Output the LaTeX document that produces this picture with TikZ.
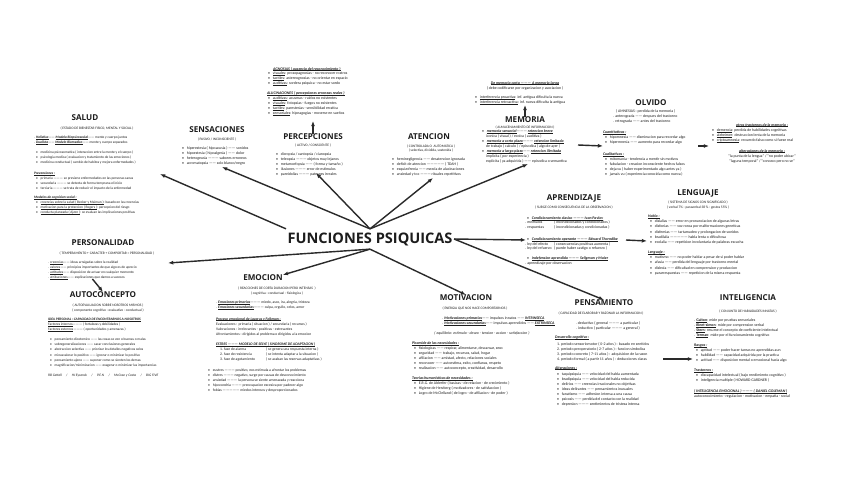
\documentclass[tikz,border=0pt]{standalone}
\usepackage{fontspec}
\setmainfont{Carlito}
\newfontfamily\headfont{Open Sans}
\usetikzlibrary{arrows.meta}
\definecolor{ink}{HTML}{1C1C1C}
\definecolor{wire}{HTML}{2A2A2A}

\newcommand{\ul}[1]{\leavevmode\setbox0=\hbox{#1}\rlap{\rule[-0.8pt]{\wd0}{0.3pt}}\box0}
\newcommand{\ttl}[1]{\ul{\textbf{\textit{#1}}}}
\newcommand{\itm}{\hspace*{1mm}\textbullet\hspace{1.4mm}}

\tikzset{
  hubtext/.style={font=\headfont\fontsize{20.7}{24}\selectfont\bfseries, inner xsep=2pt, inner ysep=5pt, text=ink},
  headtext/.style={font=\headfont\fontsize{11.5}{13}\selectfont\bfseries, inner sep=0pt, text=ink},
  subtext/.style={font=\fontsize{5}{6.9}\selectfont, inner sep=0pt, align=center, text=ink},
  bodytext/.style={font=\fontsize{5.5}{7.1}\selectfont, inner sep=0pt, align=left, anchor=north west, text=ink},
  smalltext/.style={bodytext, font=\fontsize{5}{7.1}\selectfont},
  linkarrow/.style={-{Latex[length=2.6mm,width=2mm]}, line width=2pt, draw=wire},
}

\begin{document}
\begin{tikzpicture}[x=0.05cm, y=-0.05cm]
  \fill[white] (0,0) rectangle (848,477);
  \useasboundingbox (0,0) rectangle (848,477);

  % Nodo central
  \node[hubtext] (fp) at (370,239) {FUNCIONES PSIQUICAS};

  % SALUD
  \node[headtext] (salud) at (85,118) {SALUD};
  \node[subtext] (saludSub) at (97,128) {( ESTADO DE BIENESTAR FISICO, MENTAL Y SOCIAL )};
  \node[smalltext] (saludTxt) at (34,136) {. \ttl{Holistica} —— \ttl{Modelo Biopsicosocial} —— mente y cuerpo juntos\\
. \ttl{Dualista} —— \ttl{Modelo Biomedico} —— mente y cuerpo separados\\[2.3mm]
\itm medicina psicosomatica ( interaccion entre la mente y el cuerpo )\\
\itm psicologia medica ( evaluacion y tratamiento de las emociones )\\
\itm medicina conductual ( cambio de habitos y mejora enfermedades )\\[3mm]
\ttl{Prevenciones :}\\
\itm primaria ——— se previene enfermedades en las personas sanas\\
\itm secundaria ——— se detecta de forma temprana el inicio\\
\itm terciaria ——— se trata de reducir el impacto de la enfermedad\\[2.3mm]
\ttl{Modelos de cognicion social :}\\
\itm \ul{creencias sobre la salud ( Becker y Maiman )} : basado en las creencias\\
\itm \ul{motivacion para la proteccion ( Rogers )} : percepcion del riesgo\\
\itm \ul{conducta planeada ( Ajzen )} : se evaluan las implicaciones positivas};

  % SENSACIONES
  \node[headtext] (sens) at (217,130) {SENSACIONES};
  \node[subtext] (sensSub) at (217,139) {( PASIVO / INCONSCIENTE )};
  \node[bodytext] (sensTxt) at (180,147) {\itm hiperestesia ( hipoacusia ) —— sonidos\\
\itm hipoestesia ( hipoalgesia ) —— dolor\\
\itm heterogeusia ——— sabores erroneos\\
\itm acromatopsia —— solo blanco/negro};

  % PERCEPCIONES
  \node[bodytext] (agnos) at (266,67) {\hspace*{3.5mm}\ttl{AGNOSIAS ( ausencia del reconocimiento )}\\
\itm \ul{visuales} : prosopagnosias - no reconocer rostros\\
\itm \ul{tactiles} : astereognosias - no orientar en espacio\\
\itm \ul{auditivas} : sordera psiquica - no estar sordo\\[2.5mm]
\hspace*{0.5mm}\ttl{ALUCINACIONES ( percepciones erroneas reales )}\\
\itm \ul{auditivas} : acusmas - ruidos no existentes\\
\itm \ul{visuales} : fotopsias - fuegos no existentes\\
\itm \ul{tactiles} : parestesias - sensibilidad erratica\\
\itm \ul{sensoriales} : hipnagogias - moverse en sueños};
  \node[headtext] (perc) at (313,137) {PERCEPCIONES};
  \node[subtext] (percSub) at (313,145) {( ACTIVO / CONSCIENTE )};
  \node[bodytext] (percTxt) at (274,153) {\itm dicropsia / xantopsia / cianopsia\\
\itm teleopsia ——— objetos muy lejanos\\
\itm metamorfopsia —— ( forma y tamaño )\\
\itm ilusiones ——— error de estimulos\\
\itm pareidolias ——— patrones irreales};

  % ATENCION
  \node[headtext] (aten) at (429,137) {ATENCION};
  \node[subtext] (atenSub) at (431,148.5) {( CONTROLADA O \ AUTOMATICA )\\( selectiva, dividida, sostenida )};
  \node[bodytext] (atenTxt) at (390,158) {\itm heminegligencia —— desatencion ignorada\\
\itm deficit de atencion ————— ( TDAH )\\
\itm esquizofrenia —— mezcla de alucinaciones\\
\itm ansiedad y toc ——— rituales repetitivos};

  % MEMORIA
  \node[bodytext, anchor=center] (memCorta) at (525,83) {\ttl{De memoria corta ——— A memoria larga}};
  \node[subtext, font=\fontsize{5.5}{7}\selectfont] (memCortaSub) at (525,88) {( debe codificarse por organizacion y asociacion )};
  \node[bodytext] (memInt) at (473,96) {\itm \ul{interferencia proactiva} : inf. antigua dificulta la nueva\\
\itm \ul{interferencia retroactiva} : inf. nueva dificulta la antigua};
  \node[headtext] (mem) at (525,120) {MEMORIA};
  \node[subtext] (memSub) at (525,127) {( ALMACENAMIENTO DE INFORMACION )};
  \node[bodytext] (memTxt) at (480,130) {\itm \ttl{memoria sensorial} ——— \ttl{retencion breve}\\
\hspace*{3mm}iconica ( visual ) / ecoica ( auditiva )\\
\itm \ttl{memoria a corto plazo} ——— \ttl{retencion limitada}\\
\hspace*{3mm}de trabajo ( calculo ) / episodica ( algo de ayer )\\
\itm \ttl{memoria a largo plazo} —— \ttl{retencion ilimitada}\\
\hspace*{3mm}implicita ( por experiencia )\\
\hspace*{3mm}explicita ( ya adquirida ) —— episodica o semantica};

  % OLVIDO
  \node[headtext] (olv) at (651,103) {OLVIDO};
  \node[bodytext] (olvAmn) at (613,110) {\hspace*{1.5mm}( AMNESIAS : perdida de la memoria )\\
. anterograda —— despues del trastorno\\
. retrograda —— antes del trastorno};
  \node[bodytext] (olvTxt) at (603,131) {\ttl{Cuantitativas :}\\
\itm hipomnesia —— disminucion para recordar algo\\
\itm hipermnesia —— aumento para recordar algo\\[3.3mm]
\ttl{Cualitativas :}\\
\itm mitomania - tendencia a mentir sin motivos\\
\itm fabulacion - creacion inconsciente hechos falsos\\
\itm deja vu ( haber experimentado algo antes ya )\\
\itm jamais vu ( experiencia conocida como nueva )};
  \node[bodytext, anchor=center] (otrosTit) at (762,125) {\ttl{otros trastornos de la memoria :}};
  \node[bodytext] (otrosTxt) at (710,129) {\itm \ul{demencia} : perdida de habilidades cognitivas\\
\itm \ul{alzheimer} : destruccion lenta de la memoria\\
\itm \ul{criptoamnesia} : recuerdo falso como si fuese real};
  \node[bodytext, anchor=center, align=center] (altMem) at (762,156) {\ttl{alteraciones de la memoria :}\\
“la punta de la lengua” / “no poder ubicar”\\
“laguna temporal” / “conozco pero no se”};

  % APRENDIZAJE
  \node[headtext] (apr) at (574,198) {APRENDIZAJE};
  \node[subtext] (aprSub) at (574,207) {( SURGE COMO CONSECUENCIA DE LA OBSERVACION )};
  \node[bodytext, font=\fontsize{5.5}{6.7}\selectfont] (aprTxt) at (525,216.3) {\itm \ttl{Condicionamiento clasico ——— Ivan Pavlov}\\
\makebox[14.5mm][l]{. estimulos}( incondicionados y condicionados )\\
\makebox[14.5mm][l]{. respuestas}( incondicionadas y condicionadas )\\[3.6mm]
\itm \ttl{Condicionamiento operante ——— Edward Thorndike}\\
\makebox[14.5mm][l]{. ley del efecto}( consecuencias positivas aumenta )\\
\makebox[14.5mm][l]{. ley del refuerzo}( puede haber castigo o refuerzo )\\[2.4mm]
\itm \ttl{Indefension aprendida ——— Seligman y Maier}\\
. aprendizaje por observacion};

  % LENGUAJE
  \node[headtext] (leng) at (698,193) {LENGUAJE};
  \node[subtext] (lengSub) at (698,205.2) {( SISTEMA DE SIGNOS CON SIGNIFICADO )\\( verbal 7\% - paraverbal 38 \% - gestos 55\% )};
  \node[bodytext, font=\fontsize{5.5}{7.4}\selectfont] (lengTxt) at (648,214.7) {\ttl{Habla :}\\
\itm dislalias —— error en pronunciacion de algunas letras\\
\itm disfonias —— voz ronca por malformaciones geneticas\\
\itm disfemias —— tartamudeo y prolongacion de sonidos\\
\itm bradilalia ————— habla lenta o dificultosa\\
\itm ecolalia —— repeticion involuntaria de palabras escucha\\[2.4mm]
\ttl{Lenguaje :}\\
\itm mutismo —— no poder hablar a pesar de si poder hablar\\
\itm afasia —— perdida del lenguaje por trastorno mental\\
\itm dislexia —— dificultad en comprension y produccion\\
\itm pararrespuestas —— repeticion de la misma respuesta};

  % PENSAMIENTO
  \node[headtext] (pens) at (604,303) {PENSAMIENTO};
  \node[subtext] (pensSub) at (601,313) {( CAPACIDAD DE ELABORAR Y RAZONAR LA INFORMACION )};
  \node[bodytext, anchor=center, align=center] (pensDed) at (608,325.8) {. deductivo ( general ——— a particular )\\. inductivo ( particular ——— a general )};
  \node[bodytext, font=\fontsize{5.5}{7.25}\selectfont] (pensTxt) at (555,335.3) {\ttl{Desarrollo cognitivo :}\\[1mm]
\hspace*{1mm}1. periodo sensoriomotor ( 0-2 años ) : basado en sentidos\\
\hspace*{1mm}2. periodo preoperatorio ( 2-7 años ) : funcion simbolica\\
\hspace*{1mm}3. periodo concreto ( 7-11 años ) : adquisicion de la razon\\
\hspace*{1mm}4. periodo formal ( a partir 11 años ) : deducciones claras\\[1.7mm]
\ttl{Alteraciones :}\\[0.5mm]
\itm taquipsiquia —— velocidad del habla aumentada\\
\itm bradipsiquia —— velocidad del habla reducida\\
\itm delirios —— creencias irracionales no objetivas\\
\itm ideas delirantes —— pensamientos inusuales\\
\itm fanatismo —— adhesion intensa a una causa\\
\itm psicosis —— perdida del contacto con la realidad\\
\itm depresion ——— sentimientos de tristeza intensa};

  % INTELIGENCIA
  \node[headtext] (intel) at (748,298) {INTELIGENCIA};
  \node[subtext] (intelSub) at (748,311) {( CONJUNTO DE HABILIDADES INNATAS )};
  \node[bodytext] (intelTxt) at (694,318.7) {. \ul{\textbf{Galton}} : mide por pruebas sensoriales\\
. \ul{\textbf{Binet-simon}} : mide por comprension verbal\\
. \ul{\textbf{Stern}} : resume el concepto de coeficiente intelectual\\
. \ul{\textbf{Terman}} : mide por el funcionamiento cognitivo\\[2.5mm]
\ttl{Rasgos :}\\
\itm aptitud —— poder hacer tareas no aprendidas aun\\
\itm habilidad —— capacidad adquirida por la practica\\
\itm actitud —— disposicion mental o emocional hacia algo\\[2.5mm]
\ttl{Trastornos :}\\
\itm discapacidad intelectual ( bajo rendimiento cognitivo )\\
\itm inteligencia multiple ( HOWARD GARDNER )\\[3mm]
\ttl{( INTELIGENCIA EMOCIONAL ) ——— ( DANIEL GOLEMAN )}\\
autoconocimiento - regulacion - motivacion - empatia - social};

  % MOTIVACION
  \node[headtext] (mot) at (466,298) {MOTIVACION};
  \node[subtext] (motSub) at (475,308) {( ENERGIA QUE NOS HACE COMPORTARNOS )};
  \node[bodytext] (motTipos) at (442,316.3) {. \ttl{Motivaciones primarias} —— impulsos innatos —— \ttl{INTRINSECA}\\
. \ttl{Motivaciones secundarias} —— impulsos aprendidos —— \ttl{EXTRINSECA}};
  \node[bodytext, anchor=center] (motEq) at (482,333) {\textit{( equilibrio: estimulo - deseo - tension - accion - satisfaccion )}};
  \node[bodytext] (motTxt) at (412,341.5) {\ttl{Piramide de las necesidades :}\\
\itm fisiologicas —— respirar, alimentarse, descansar, sexo\\
\itm seguridad —— trabajo, recursos, salud, hogar\\
\itm afiliacion —— amistad, afecto, relaciones sociales\\
\itm reconocer —— autoestima, exito, confianza, respeto\\
\itm realizacion —— autoconcepto, creatividad, desarrollo\\[2.5mm]
\ttl{Teorias humanisticas de necesidades :}\\
\itm E.R.G. de Alderfer ( basicas - de relacion - de crecimiento )\\
\itm Higiene de Herzberg ( motivadores - de satisfaccion )\\
\itm Logro de McClelland ( de logro - de afiliacion - de poder )};

  % EMOCION
  \node[headtext] (emo) at (263,278) {EMOCION};
  \node[subtext, font=\fontsize{5}{6.5}\selectfont] (emoSub) at (277,291) {( REACCIONES DE CORTA DURACION PERO INTENSAS \ )\\( cognitiva - conductual - fisiologica )};
  \node[bodytext, font=\fontsize{5.3}{7.1}\selectfont] (emoTxt) at (216,300.7) {. \ttl{Emociones primarias} ——— miedo, asco, ira, alegria, tristeza\\
. \ttl{Emociones secundarias} ——— culpa, orgullo, celos, amor\\[3.3mm]
\ttl{Proceso emocional de Lazarus y Folkman :}\\
Evaluaciones : primaria ( situacion ) / secundaria ( recursos )\\
Valoraciones : irrelevantes - positivas - estresantes\\
Afrontamientos : dirigidos al problema o dirigidos a la emocion\\[2.8mm]
\ttl{ESTRES ——— MODELO DE SELYE ( SINDROME DE ADAPTACION )}\\
\hspace*{2mm}\makebox[23mm][l]{1. fase de alarma}( se genera una respuesta interna )\\
\hspace*{2mm}\makebox[23mm][l]{2. fase de resistencia}( se intenta adaptar a la situacion )\\
\hspace*{2mm}\makebox[23mm][l]{3. fase de agotamiento}( se acaban las reservas adaptativas )};
  \node[bodytext, font=\fontsize{5.3}{7.1}\selectfont] (emoBul) at (206,368.7) {\itm eustres ——— positivo, nos estimula a afrontar los problemas\\
\itm distres ——— negativo, surge por causas de desconocimiento\\
\itm ansiedad ——— la persona se siente amenazada y reacciona\\
\itm hipocondria ——— preocupacion excesiva por padecer algo\\
\itm fobias ————— miedos intensos y desproporcionados};

  % PERSONALIDAD y AUTOCONCEPTO
  \node[headtext] (pers) at (103,243) {PERSONALIDAD};
  \node[subtext] (persSub) at (107,253) {( TEMPERAMENTO + CARACTER + COMPORTAR = PERSONALIDAD )};
  \node[smalltext] (persTxt) at (48,260.7) {. \ul{creencias} —— ideas arraigadas sobre la realidad\\
. \ul{valores} —— principios importantes de que algo es de aprecio\\
. \ul{actitudes} —— disposicion de actuar en cualquier momento\\
. \ul{atribuciones} —— explicaciones que damos a sucesos};
  \node[headtext] (auto) at (103,295) {AUTOCONCEPTO};
  \node[subtext] (autoSub) at (108,307.8) {( AUTOEVALUACION SOBRE NOSOTROS MISMOS )\\( componente cognitivo - evaluativo - conductual )};
  \node[smalltext, font=\fontsize{5}{7.5}\selectfont] (autoTxt) at (48,318) {\ttl{IDEA PERSONAL : CAPACIDAD DE ENCONTRARNOS A NOSOTROS}\\
\ul{Factores internos} ——— ( fortalezas y debilidades )\\
\ul{Factores externos} ——— ( oportunidades y amenazas )\\[2mm]
\itm pensamiento dicotomico —— las cosas se ven o buenas o malas\\
\itm sobregeneralizaciones —— sacar conclusiones generales\\
\itm abstraccion selectiva —— priorizar los detalles negativos solos\\
\itm minusvalorar lo positivo —— ignorar o minimizar lo positivo\\
\itm pensamiento ajeno —— suponer como se sienten los demas\\
\itm magnificacion/minimizacion —— exagerar o minimizar las importancias\\[2.4mm]
\textit{RB Cattell \quad / \quad HJ Eysenck \quad / \quad P.E.N \quad / \quad McCrae y Costa \quad / \quad BIG FIVE}};

  % Puntas de flecha
  \coordinate (saludIn) at (160,174);
  \coordinate (sensIn) at (222,167);
  \coordinate (percIn) at (316,173);
  \coordinate (atenIn) at (433,178);
  \coordinate (memIn) at (528,164);
  \coordinate (persIn) at (168,263);
  \coordinate (aprIn) at (526,240);
  \coordinate (aprOut) at (626,240);
  \coordinate (lengIn) at (647,241);
  \coordinate (memOut) at (578,145);
  \coordinate (olvIn) at (603,146);
  \coordinate (olvOut) at (698,146);
  \coordinate (otrosIn) at (709,146);
  \coordinate (pensOut) at (663,359);
  \coordinate (intelIn) at (693,359);
  \coordinate (percUp) at (313,121);
  \coordinate (memUp) at (525,105);

  % Flechas
  \draw[linkarrow] (fp.north west) -- (saludIn);
  \draw[linkarrow] (fp.north) -- (sensIn);
  \draw[linkarrow] (fp.north) -- (percIn);
  \draw[linkarrow] (fp.north) -- (atenIn);
  \draw[linkarrow] (fp.north) -- (memIn);
  \draw[linkarrow] (fp.south) -- (persIn);
  \draw[linkarrow] (fp.south) -- (emo.north east);
  \draw[linkarrow] (fp.south) -- (mot.north);
  \draw[linkarrow] (fp.east) -- (aprIn);
  \draw[linkarrow] (fp.east) -- (pens.north);
  \draw[linkarrow] (aprOut) -- (lengIn);
  \draw[linkarrow] (memOut) -- (olvIn);
  \draw[linkarrow] (olvOut) -- (otrosIn);
  \draw[linkarrow] (pensOut) -- (intelIn);
  \draw[linkarrow] (persTxt.south) -- (auto.north);
  \draw[linkarrow] (perc.north) -- (percUp);
  \draw[linkarrow] (mem.north) -- (memUp);
\end{tikzpicture}
\end{document}
